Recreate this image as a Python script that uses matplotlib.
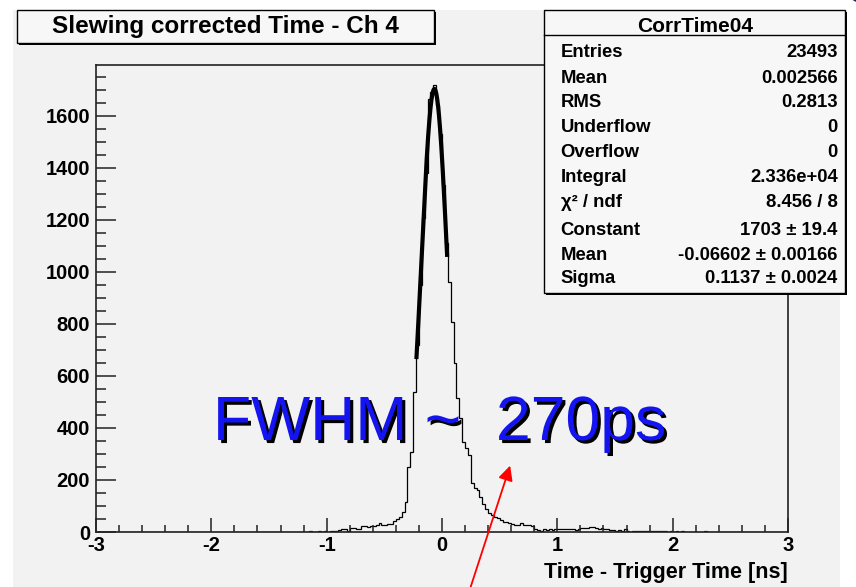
import numpy as np
import matplotlib
matplotlib.use("Agg")
import matplotlib.pyplot as plt
import matplotlib.patheffects as pe
from matplotlib.patches import Rectangle, Circle, FancyArrowPatch
from matplotlib.ticker import MultipleLocator

plt.rcParams['font.family'] = ['Liberation Sans', 'DejaVu Sans']
plt.rcParams['axes.unicode_minus'] = False

x_lo, x_hi, n_bins = -3.0, 3.0, 240
first_bin = -1.2
counts_read = [
    0, 0, 3, 1, 0, 2, 1, 2,                    # -1.200 .. -1.025
    1, 2, 2, 3, 7, 12, 11, 5,                  # -1.000 .. -0.825
    15, 14, 12, 12, 23, 22, 20, 24,            # -0.800 .. -0.625
    24, 25, 36, 26, 26, 30, 30, 42,            # -0.600 .. -0.425
    49, 59, 76, 115, 250, 308, 540, 720,       # -0.400 .. -0.225
    950, 1205, 1380, 1665, 1690, 1718, 1640, 1530,  # -0.200 .. -0.025
    1335, 1110, 960, 806, 651, 515, 440, 347,  # 0.000 .. 0.175
    323, 297, 189, 170, 162, 135, 108, 89,     # 0.200 .. 0.375
    73, 66, 58, 53, 46, 40, 38, 34,            # 0.400 .. 0.575
    31, 27, 25, 33, 26, 26, 25, 24,            # 0.600 .. 0.775
    10, 8, 2, 10, 8, 10, 9, 11,                # 0.800 .. 0.975
    12, 11, 13, 12, 10, 10, 9, 11,             # 1.000 .. 1.175
    14, 15, 16, 20, 19, 14, 13, 14,            # 1.200 .. 1.375
    10, 10, 9, 6, 5, 6, 5, 10,                 # 1.400 .. 1.575
    2, 1, 2, 3, 2, 2, 3, 2,                    # 1.600 .. 1.775
    2, 3, 2, 2, 2, 2, 1, 2,                    # 1.800 .. 1.975
    0, 2, 0, 2, 1, 0, 0, 0,                    # 2.000 .. 2.175
    0, 0, 0, 2, 1, 0, 1, 0,                    # 2.200 .. 2.375
]

# gaussian fit shown in the stats box
fit_const, fit_mean, fit_sigma = 1703, -0.06602, 0.1137
fit_range = (-0.222, 0.045)

stats_labels = ["Entries", "Mean", "RMS", "Underflow", "Overflow", "Integral",
                "\u03c7\u00b2 / ndf", "Constant", "Mean", "Sigma"]
stats_values = ["23493", "0.002566", "0.2813", "0", "0", "2.336e+04",
                "8.456 / 8", "1703 \u00b1 19.4", "-0.06602 \u00b1 0.00166",
                "0.1137 \u00b1 0.0024"]
row_baselines = [56.7, 82.7, 107.3, 132.3, 157.3, 181.7, 206.7, 235, 260, 283.3]

edges = np.linspace(x_lo, x_hi, n_bins + 1)
k0 = int(round((first_bin - x_lo) / ((x_hi - x_lo) / n_bins)))
counts = np.zeros(n_bins)
counts[k0:k0 + len(counts_read)] = counts_read

W, H = 856, 587
bg = '#f2f2f2'


def fx(x):
    return x / W


def fy(y):
    return 1 - y / H


fig = plt.figure(figsize=(W / 100, H / 100), dpi=100)
fig.patch.set_facecolor('white')
fig.add_artist(Rectangle((fx(13), 0), (840 - 13) / W, fy(10), transform=fig.transFigure,
                         facecolor=bg, edgecolor='none', zorder=-2))
# bit of the slide logo in the corner
fig.add_artist(Circle((fx(880), fy(-20)), 40 / W, transform=fig.transFigure,
                      facecolor='#1f2a6e', edgecolor='none', zorder=-1))

ax = fig.add_axes([fx(96), fy(532), (788 - 96) / W, (532 - 65) / H])
ax.set_facecolor(bg)
ax.stairs(counts, edges, color='black', lw=0.9)
xf = np.linspace(fit_range[0], fit_range[1], 200)
ax.plot(xf, fit_const * np.exp(-0.5 * ((xf - fit_mean) / fit_sigma) ** 2),
        color='black', lw=3.0, solid_capstyle='butt')

ax.set_xlim(x_lo, x_hi)
ax.set_ylim(0, 1795)
ax.xaxis.set_major_locator(MultipleLocator(1))
ax.xaxis.set_minor_locator(MultipleLocator(0.2))
ax.yaxis.set_major_locator(MultipleLocator(200))
ax.yaxis.set_minor_locator(MultipleLocator(50))
ax.tick_params(which='both', direction='in', top=False, right=False, color='#222222', width=1.1)
ax.tick_params(axis='x', which='major', length=10, pad=3, labelsize=14.5)
ax.tick_params(axis='x', which='minor', length=5)
ax.tick_params(axis='y', which='major', length=14.5, pad=4.3, labelsize=14.5)
ax.tick_params(axis='y', which='minor', length=7.2)
for lbl in ax.get_xticklabels() + ax.get_yticklabels():
    lbl.set_fontweight('bold')
for s in ax.spines.values():
    s.set_color('#222222')
    s.set_linewidth(1.2)

fig.text(fx(788), fy(578), "Time - Trigger Time [ns]", ha='right', va='baseline',
         fontsize=15.5, fontweight='bold')

# title box
fig.add_artist(Rectangle((fx(19), fy(45)), (434 - 17) / W, (43 - 10) / H, transform=fig.transFigure,
                         facecolor='black', edgecolor='none', zorder=4))
fig.add_artist(Rectangle((fx(17), fy(43)), (434 - 17) / W, (43 - 10) / H, transform=fig.transFigure,
                         facecolor='#f7f7f7', edgecolor='black', lw=1, zorder=4.1))
fig.text(fx(225.5), fy(33.3), "Slewing corrected Time - Ch 4", ha='center', va='baseline',
         fontsize=17.5, fontweight='bold', zorder=4.2)

# stats box
fig.add_artist(Rectangle((fx(546), fy(294.5)), (845 - 544) / W, (292.5 - 10) / H,
                         transform=fig.transFigure, facecolor='black', edgecolor='none', zorder=5))
fig.add_artist(Rectangle((fx(544), fy(292.5)), (845 - 544) / W, (292.5 - 10) / H,
                         transform=fig.transFigure, facecolor='#f7f7f7', edgecolor='black',
                         lw=1, zorder=5.1))
fig.add_artist(plt.Line2D([fx(544), fx(845)], [fy(35), fy(35)], transform=fig.transFigure,
                          color='black', lw=1, zorder=5.2))
fig.text(fx(695), fy(31.7), "CorrTime04", ha='center', va='baseline',
         fontsize=15, fontweight='bold', zorder=5.3)
for lab, val, yb in zip(stats_labels, stats_values, row_baselines):
    fig.text(fx(560.7), fy(yb), lab, ha='left', va='baseline', fontsize=13.3,
             fontweight='bold', zorder=5.3)
    fig.text(fx(837.7), fy(yb), val, ha='right', va='baseline', fontsize=13.3,
             fontweight='bold', zorder=5.3)

# FWHM annotation with a black drop shadow
fig.text(fx(213), fy(440), "FWHM ~  270ps", ha='left', va='baseline', fontsize=45,
         color='#1414f0', zorder=6,
         path_effects=[pe.withSimplePatchShadow(offset=(2.2, -2.2), shadow_rgbFace='black',
                                                alpha=1.0)])

fig.add_artist(FancyArrowPatch((fx(469), fy(592)), (fx(511), fy(463)), transform=fig.transFigure,
                               arrowstyle='-|>', mutation_scale=22, color='#ff0000', lw=1.3,
                               zorder=7))

fig.savefig("out.png", dpi=100, facecolor=fig.get_facecolor())
